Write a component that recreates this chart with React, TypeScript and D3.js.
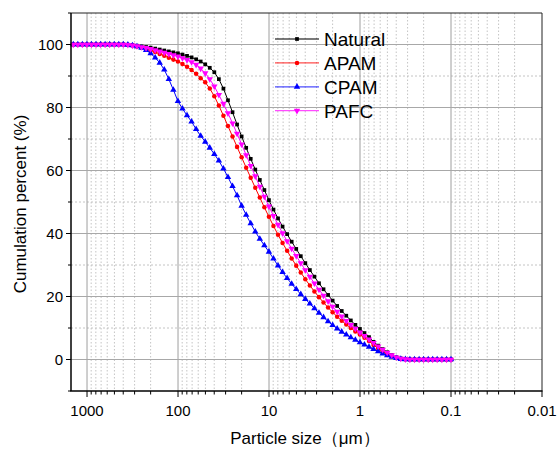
import React from "react";
import * as d3 from "d3";

// Particle size classes (µm), descending
const sizes: number[] = [
  1415.892, 1261.915, 1124.683, 1002.374, 893.367, 796.214,
  709.627, 632.456, 563.677, 502.377, 447.744, 399.052,
  355.656, 316.979, 282.508, 251.785, 224.404, 200.0,
  178.25, 158.866, 141.589, 126.191, 112.468, 100.237,
  89.337, 79.621, 70.963, 63.246, 56.368, 50.238,
  44.774, 39.905, 35.566, 31.698, 28.251, 25.179,
  22.44, 20.0, 17.825, 15.887, 14.159, 12.619,
  11.247, 10.024, 8.934, 7.962, 7.096, 6.325,
  5.637, 5.024, 4.477, 3.991, 3.557, 3.17,
  2.825, 2.518, 2.244, 2.0, 1.783, 1.589,
  1.416, 1.262, 1.125, 1.002, 0.893, 0.796,
  0.71, 0.632, 0.564, 0.502, 0.448, 0.399,
  0.356, 0.317, 0.283, 0.252, 0.224, 0.2,
  0.178, 0.159, 0.142, 0.126, 0.112, 0.1,
];

const natural: number[] = [
  100, 100, 100, 100, 100, 100,
  100, 100, 100, 100, 100, 100,
  99.9, 99.8, 99.6, 99.4, 99.2, 99.0,
  98.7, 98.4, 98.1, 97.8, 97.5, 97.2,
  96.8, 96.4, 95.9, 95.3, 94.6, 93.7,
  92.6, 91.2, 89.0, 86.0, 82.3, 78.5,
  74.6, 70.8, 67.2, 63.7, 60.3, 57.0,
  53.8, 50.6, 47.6, 44.8, 42.2, 39.8,
  37.4, 35.1, 32.8, 30.6, 28.4, 26.3,
  24.2, 22.3, 20.5, 18.7, 17.0, 15.4,
  13.9, 12.4, 11.0, 9.7, 8.4, 7.1,
  5.6, 4.4, 3.3, 2.3, 1.4, 0.7,
  0.3, 0.1, 0, 0, 0, 0,
  0, 0, 0, 0, 0, 0,
];

const apam: number[] = [
  100, 100, 100, 100, 100, 100,
  100, 100, 100, 100, 100, 100,
  99.9, 99.7, 99.4, 99.0, 98.6, 98.1,
  97.6, 97.0, 96.4, 95.8, 95.2, 94.6,
  93.8, 92.9, 91.9, 90.7, 89.3, 88.0,
  86.0, 83.6, 80.6, 77.4, 74.1, 70.8,
  67.5, 64.2, 60.9, 57.7, 54.5, 51.4,
  48.3, 45.3, 42.4, 39.6, 37.0, 34.5,
  32.1, 29.8, 27.6, 25.5, 23.5, 21.6,
  19.8, 18.1, 16.5, 15.0, 13.6, 12.3,
  11.1, 10.0, 8.9, 7.9, 6.9, 5.9,
  4.6, 3.5, 2.5, 1.7, 1.0, 0.5,
  0.2, 0.05, 0, 0, 0, 0,
  0, 0, 0, 0, 0, 0,
];

const cpam: number[] = [
  100, 100, 100, 100, 100, 100,
  100, 100, 100, 100, 100, 100,
  99.9, 99.7, 99.4, 98.9, 98.2, 97.2,
  95.8, 94.2, 92.0, 89.0, 85.6, 82.0,
  79.6, 77.5, 75.5, 73.1, 71.0, 69.1,
  67.2, 65.2, 63.1, 60.6, 57.9, 55.0,
  52.1, 48.8, 45.9, 43.2, 40.6, 38.3,
  36.2, 34.2, 32.0, 29.8, 27.7, 25.8,
  24.0, 22.3, 20.7, 19.2, 17.7, 16.2,
  14.8, 13.4, 12.1, 10.9, 9.8, 8.8,
  7.9, 7.0, 6.2, 5.4, 4.7, 4.0,
  3.3, 2.6, 1.9, 1.3, 0.8, 0.4,
  0.15, 0.05, 0, 0, 0, 0,
  0, 0, 0, 0, 0, 0,
];

const pafc: number[] = [
  100, 100, 100, 100, 100, 100,
  100, 100, 100, 100, 100, 100,
  99.9, 99.7, 99.5, 99.2, 98.9, 98.6,
  98.2, 97.8, 97.4, 97.0, 96.6, 96.2,
  95.7, 95.1, 94.4, 93.6, 92.4, 90.9,
  89.0, 86.7, 84.0, 81.2, 78.2, 75.0,
  71.7, 68.3, 64.9, 61.5, 58.2, 54.9,
  51.7, 48.6, 45.6, 42.8, 40.1, 37.6,
  35.2, 32.9, 30.6, 28.4, 26.3, 24.2,
  22.2, 20.3, 18.5, 16.8, 15.2, 13.7,
  12.3, 11.0, 9.8, 8.6, 7.5, 6.4,
  5.3, 4.2, 3.1, 2.2, 1.4, 0.7,
  0.3, 0.1, 0, 0, 0, 0,
  0, 0, 0, 0, 0, 0,
];

const seriesNames: string[] = ["Natural", "APAM", "CPAM", "PAFC"];
const xTickValues: number[] = [1000, 100, 10, 1, 0.1, 0.01];
const xTickLabels: string[] = ["1000", "100", "10", "1", "0.1", "0.01"];
const yTickValues: number[] = [0, 20, 40, 60, 80, 100];
const yMinorValues: number[] = [-10, 10, 30, 50, 70, 90, 110];

const W = 557;
const H = 450;
const M = { left: 71, right: 542, top: 13, bottom: 391 };

export default function App() {
  const x = d3.scaleLog().domain([1500, 0.01]).range([M.left, M.right]);
  const y = d3.scaleLinear().domain([-10, 110]).range([M.bottom, M.top]);

  const series = [
    { name: seriesNames[0], values: natural, color: "#000000", symbol: d3.symbolSquare, size: 14, rot: 0 },
    { name: seriesNames[1], values: apam, color: "#ff0000", symbol: d3.symbolCircle, size: 16, rot: 0 },
    { name: seriesNames[2], values: cpam, color: "#0000ff", symbol: d3.symbolTriangle, size: 18, rot: 0 },
    { name: seriesNames[3], values: pafc, color: "#ff00ff", symbol: d3.symbolTriangle, size: 18, rot: 180 },
  ];

  const minorX: number[] = [];
  for (let e = -2; e <= 3; e++) {
    for (let k = 2; k <= 9; k++) {
      const v = k * Math.pow(10, e);
      if (v < 1500 && v > 0.01) minorX.push(v);
    }
  }

  const line = (vals: number[]) =>
    d3
      .line<number>()
      .x((_, i) => x(sizes[i]))
      .y((d) => y(d))(vals) || "";

  const font = "Arial, 'Liberation Sans', sans-serif";

  return (
    <div style={{ position: "absolute", left: 0, top: 0 }}>
      <svg width={W} height={H} style={{ display: "block", background: "#fff" }} fontFamily={font}>
        <rect x={0} y={0} width={W} height={H} fill="#fff" />
        {/* minor vertical grid */}
        {minorX.map((v, i) => (
          <line key={"mx" + i} x1={x(v)} x2={x(v)} y1={M.top} y2={M.bottom} stroke="#c4c4c4" strokeWidth={1} strokeDasharray="1.5,2" />
        ))}
        {/* minor horizontal grid */}
        {yMinorValues.filter((v) => v > -10 && v < 110).map((v) => (
          <line key={"my" + v} x1={M.left} x2={M.right} y1={y(v)} y2={y(v)} stroke="#c4c4c4" strokeWidth={1} strokeDasharray="2,2" />
        ))}
        {/* major grid */}
        {xTickValues.slice(0, 5).map((v) => (
          <line key={"gx" + v} x1={x(v)} x2={x(v)} y1={M.top} y2={M.bottom} stroke="#9e9e9e" strokeWidth={1} />
        ))}
        {yTickValues.map((v) => (
          <line key={"gy" + v} x1={M.left} x2={M.right} y1={y(v)} y2={y(v)} stroke="#a8a8a8" strokeWidth={1.2} />
        ))}

        {/* series */}
        {series.map((s) => (
          <g key={s.name}>
            <path d={line(s.values)} fill="none" stroke={s.color} strokeWidth={1} />
            {s.values.map((v, i) => (
              <path
                key={i}
                d={d3.symbol().type(s.symbol).size(s.size)() || ""}
                transform={`translate(${x(sizes[i])},${y(v)}) rotate(${s.rot})`}
                fill={s.color}
              />
            ))}
          </g>
        ))}

        {/* frame */}
        <line x1={M.left} x2={M.right} y1={M.top} y2={M.top} stroke="#222" strokeWidth={1} />
        <line x1={M.right} x2={M.right} y1={M.top} y2={M.bottom} stroke="#222" strokeWidth={1} />
        <line x1={M.left} x2={M.left} y1={M.top} y2={M.bottom} stroke="#000" strokeWidth={1.5} />
        <line x1={M.left - 0.75} x2={M.right + 0.5} y1={M.bottom} y2={M.bottom} stroke="#000" strokeWidth={1.5} />

        {/* y ticks */}
        {yTickValues.map((v) => (
          <g key={"yt" + v}>
            <line x1={M.left - 5} x2={M.left} y1={y(v)} y2={y(v)} stroke="#000" strokeWidth={1} />
            <text x={M.left - 8} y={y(v)} dy="0.35em" textAnchor="end" fontSize={15} fill="#000">
              {v}
            </text>
          </g>
        ))}
        {yMinorValues.map((v) => (
          <line key={"ymt" + v} x1={M.left - 3} x2={M.left} y1={y(v)} y2={y(v)} stroke="#000" strokeWidth={1} />
        ))}

        {/* x ticks */}
        {xTickValues.map((v, i) => (
          <g key={"xt" + v}>
            <line x1={x(v)} x2={x(v)} y1={M.bottom} y2={M.bottom + 6} stroke="#000" strokeWidth={1} />
            <text x={x(v)} y={M.bottom + 25} textAnchor="middle" fontSize={15} fill="#000">
              {xTickLabels[i]}
            </text>
          </g>
        ))}
        {minorX.map((v, i) => (
          <line key={"xmt" + i} x1={x(v)} x2={x(v)} y1={M.bottom} y2={M.bottom + 3.5} stroke="#000" strokeWidth={1} />
        ))}

        {/* axis titles */}
        <text x={305} y={444} textAnchor="middle" fontSize={17} fill="#000">
          Particle size（μm）
        </text>
        <text transform={`translate(26,${(M.top + M.bottom) / 2 + 2}) rotate(-90)`} textAnchor="middle" fontSize={17} fill="#000">
          Cumulation percent (%)
        </text>

        {/* legend */}
        {series.map((s, i) => {
          const ly = 39 + i * 23.9;
          return (
            <g key={"lg" + s.name}>
              <line x1={275} x2={319} y1={ly} y2={ly} stroke={s.color} strokeOpacity={0.7} strokeWidth={1.3} />
              <path d={d3.symbol().type(s.symbol).size(s.size)() || ""} transform={`translate(297,${ly}) rotate(${s.rot})`} fill={s.color} />
              <text x={324} y={ly} dy="0.36em" fontSize={19} fill="#000">
                {s.name}
              </text>
            </g>
          );
        })}
      </svg>
    </div>
  );
}
